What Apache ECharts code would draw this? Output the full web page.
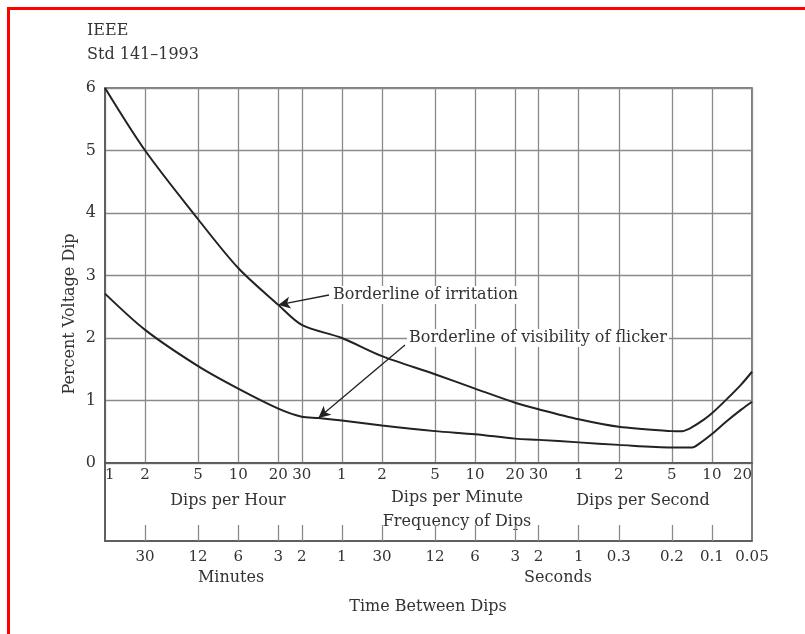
<!DOCTYPE html>
<html>
<head>
<meta charset="utf-8">
<script src="https://cdn.jsdelivr.net/npm/echarts@6/dist/echarts.min.js"></script>
<style>html,body{margin:0;padding:0;background:#fff;}#c{width:805px;height:634px;}</style>
</head>
<body>
<div id="c"></div>
<script>
// Frequency of dips, expressed in dips per hour
const freqTicks = [1, 2, 5, 10, 20, 30, 60, 120, 300, 600, 1200, 1800, 3600, 7200, 18000, 36000, 72000];
const freqLabels = ['1', '2', '5', '10', '20', '30', '1', '2', '5', '10', '20', '30', '1', '2', '5', '10', '20'];
const timeLabels = ['', '30', '12', '6', '3', '2', '1', '30', '12', '6', '3', '2', '1', '0.3', '0.2', '0.1', '0.05'];

// Borderline of irritation: [dips per hour, percent voltage dip]
const irritationFreq = [1, 2, 5, 10, 20, 30, 60, 120, 300, 600, 1200, 1800, 3600, 7200, 18000, 20970, 24700, 31140, 36000, 45980, 59400, 72000];
const irritationDip = [6.0, 5.0, 3.9, 3.12, 2.53, 2.21, 2.0, 1.71, 1.42, 1.19, 0.965, 0.86, 0.70, 0.58, 0.51, 0.507, 0.555, 0.69, 0.795, 1.01, 1.25, 1.46];

// Borderline of visibility of flicker
const visibilityFreq = [1, 2, 5, 10, 20, 30, 40, 60, 120, 300, 600, 1200, 1800, 3600, 7200, 18000, 25560, 29120, 36000, 45980, 59400, 72000];
const visibilityDip = [2.71, 2.13, 1.55, 1.19, 0.87, 0.74, 0.72, 0.68, 0.60, 0.51, 0.46, 0.39, 0.37, 0.33, 0.29, 0.25, 0.25, 0.315, 0.464, 0.66, 0.85, 0.98];

const yTicks = [0, 1, 2, 3, 4, 5, 6];

const FONT = 'DejaVu Serif';
const TXT = '#333';
const GRID = '#8a8a8a';
const FRAME = '#555';

const zip = (xs, ys) => xs.map((x, i) => [x, ys[i]]);
const labelFor = (labels) => (v) => {
  const i = freqTicks.findIndex(t => Math.abs(t - v) / t < 1e-6);
  return i >= 0 ? labels[i] : '';
};

const chart = echarts.init(document.getElementById('c'), null, {renderer: 'canvas'});

const txt = (text, x, y, opts, extra) => Object.assign({
  type: 'text', x: x, y: y,
  style: Object.assign({text: text, font: '16px "' + FONT + '"', fill: TXT, align: 'center', verticalAlign: 'middle'}, opts || {})
}, extra || {});

chart.setOption({
  animation: false,
  backgroundColor: '#fff',
  grid: [
    {left: 105, right: 53, top: 88, bottom: 171, show: true, borderColor: FRAME, borderWidth: 1.5},
    {left: 105, right: 53, top: 463, bottom: 93, show: true, borderColor: FRAME, borderWidth: 1.5}
  ],
  xAxis: [
    {
      type: 'log', gridIndex: 0, min: freqTicks[0], max: freqTicks[freqTicks.length - 1],
      axisLine: {show: true, lineStyle: {color: FRAME, width: 1.5}},
      axisTick: {show: false, customValues: freqTicks},
      splitLine: {show: true, lineStyle: {color: GRID, width: 1.3}},
      minorTick: {show: false}, minorSplitLine: {show: false},
      axisLabel: {
        customValues: freqTicks, margin: 5, color: TXT, fontFamily: FONT, fontSize: 15,
        alignMinLabel: 'left', alignMaxLabel: 'right', showMinLabel: true, showMaxLabel: true,
        formatter: labelFor(freqLabels)
      }
    },
    {
      type: 'log', gridIndex: 1, min: freqTicks[0], max: freqTicks[freqTicks.length - 1], position: 'bottom',
      axisLine: {show: true, lineStyle: {color: FRAME, width: 1.5}},
      axisTick: {show: true, inside: true, length: 16, customValues: freqTicks.slice(1, -1), lineStyle: {color: GRID, width: 1.3}},
      splitLine: {show: false},
      axisLabel: {
        customValues: freqTicks.slice(1), margin: 9, color: TXT, fontFamily: FONT, fontSize: 15,
        showMinLabel: true, showMaxLabel: true,
        formatter: labelFor(timeLabels)
      }
    }
  ],
  yAxis: [
    {
      type: 'value', gridIndex: 0, min: yTicks[0], max: yTicks[yTicks.length - 1], interval: 1,
      axisLine: {show: true, lineStyle: {color: FRAME, width: 1.5}},
      axisTick: {show: false},
      splitLine: {show: true, lineStyle: {color: GRID, width: 1.3}},
      axisLabel: {margin: 9, color: TXT, fontFamily: FONT, fontSize: 16}
    },
    {
      type: 'value', gridIndex: 1, min: 0, max: 1,
      axisLine: {show: true, lineStyle: {color: FRAME, width: 1.5}},
      axisTick: {show: false}, axisLabel: {show: false}, splitLine: {show: false}
    }
  ],
  series: [
    {
      name: 'Borderline of irritation', type: 'line', xAxisIndex: 0, yAxisIndex: 0,
      data: zip(irritationFreq, irritationDip), smooth: 0.3, showSymbol: false, symbol: 'none',
      lineStyle: {color: '#222', width: 2}, z: 5,
      markLine: {
        silent: true, symbol: ['none', 'arrow'], symbolSize: [9, 12],
        lineStyle: {color: '#222', width: 1.3, type: 'solid'}, label: {show: false},
        data: [[{x: 329, y: 295}, {coord: [20, 2.53]}]]
      }
    },
    {
      name: 'Borderline of visibility of flicker', type: 'line', xAxisIndex: 0, yAxisIndex: 0,
      data: zip(visibilityFreq, visibilityDip), smooth: 0.3, showSymbol: false, symbol: 'none',
      lineStyle: {color: '#222', width: 2}, z: 5,
      markLine: {
        silent: true, symbol: ['none', 'arrow'], symbolSize: [9, 12],
        lineStyle: {color: '#222', width: 1.3, type: 'solid'}, label: {show: false},
        data: [[{x: 405, y: 345}, {coord: [40, 0.72]}]]
      }
    }
  ],
  graphic: [
    {type: 'rect', shape: {x: 8.5, y: 8.5, width: 900, height: 800}, style: {fill: 'none', stroke: '#ff0000', lineWidth: 3}, silent: true},
    txt('IEEE', 87, 31, {align: 'left'}),
    txt('Std 141\u20131993', 87, 55, {align: 'left'}),
    txt('Percent Voltage Dip', 70, 314, {}, {rotation: Math.PI / 2}),
    txt('Dips per Hour', 228, 501),
    txt('Dips per Minute', 457, 498),
    txt('Frequency of Dips', 457, 522),
    txt('Dips per Second', 643, 501),
    txt('Minutes', 231, 578),
    txt('Seconds', 558, 578),
    txt('Time Between Dips', 428, 607),
    txt('Borderline of irritation', 331, 295, {align: 'left', backgroundColor: '#fff', padding: [1, 2]}, {z: 100}),
    txt('Borderline of visibility of flicker', 407, 338, {align: 'left', backgroundColor: '#fff', padding: [1, 2]}, {z: 100})
  ]
});
</script>
</body>
</html>
